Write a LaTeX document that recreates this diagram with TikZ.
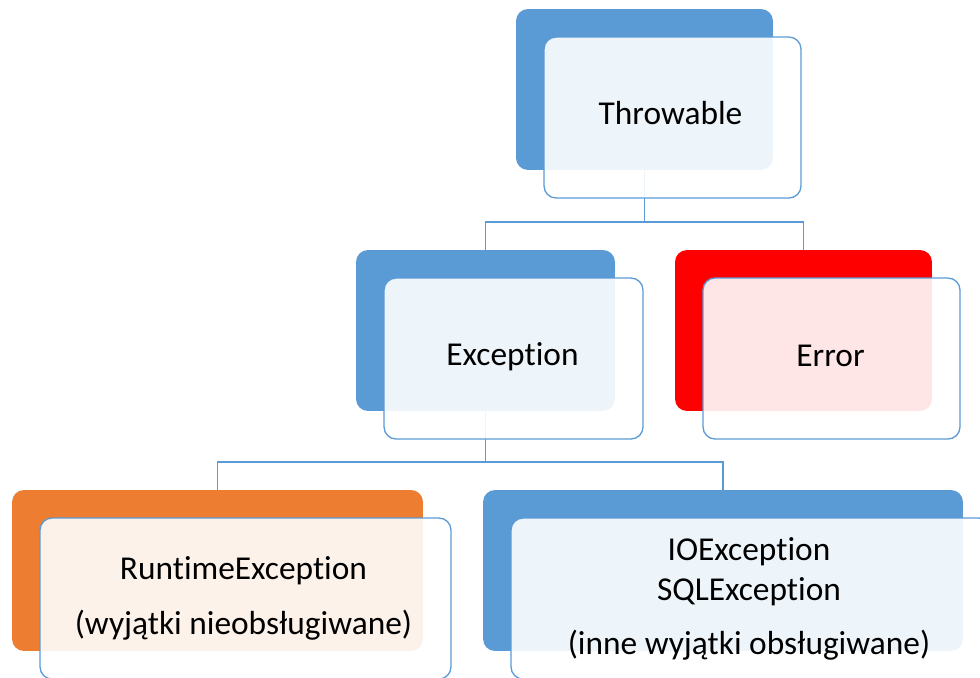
\documentclass[tikz,border=0pt]{standalone}
\usepackage{fontspec}
\setmainfont{Carlito}[Ligatures=NoCommon]
\usepackage{tikz}

\definecolor{blueback}{HTML}{5B9BD5}
\definecolor{redback}{HTML}{FF0000}
\definecolor{orangeback}{HTML}{ED7D31}
\definecolor{lineblue}{HTML}{5B9BD5}

\tikzset{
  back/.style={draw=none,rounded corners=0.24cm,minimum height=3.22cm,inner sep=0pt},
  front/.style={draw=lineblue,line width=0.75pt,fill=white,fill opacity=0.9,rounded corners=0.24cm,minimum height=3.22cm,inner sep=0pt},
  conn/.style={draw=lineblue,line width=0.85pt},
  lbl/.style={align=center,font=\fontsize{19pt}{23pt}\selectfont,inner sep=0pt}
}

\begin{document}
\begin{tikzpicture}[x=0.02cm,y=-0.02cm]
\useasboundingbox (0,0) rectangle (980,677);
\clip (0,0) rectangle (980,677);
\node[back,fill=blueback,minimum width=5.14cm] (throwable) at (644.5,89.5) {};
\node[back,fill=blueback,minimum width=5.18cm] (exception) at (485.5,330.5) {};
\node[back,fill=redback,minimum width=5.14cm] (error) at (803.5,330.5) {};
\node[back,fill=orangeback,minimum width=8.22cm] (runtime) at (217.5,570.5) {};
\node[back,fill=blueback,minimum width=9.6cm] (checked) at (723,570.5) {};

\coordinate (split1) at (644.5,222);
\coordinate (split2) at (485.5,462);
\draw[conn] (throwable.south) -- (split1) -| (exception.north);
\draw[conn] (split1) -| (error.north);
\draw[conn] (exception.south) -- (split2) -| (runtime.north);
\draw[conn] (split2) -| (checked.north);

\node[front,minimum width=5.14cm] (throwablef) at ([shift={(28,28)}]throwable) {};
\node[front,minimum width=5.18cm] (exceptionf) at ([shift={(28,28)}]exception) {};
\node[front,minimum width=5.14cm] (errorf) at ([shift={(28,28)}]error) {};
\node[front,minimum width=8.22cm] (runtimef) at ([shift={(28,28)}]runtime) {};
\node[front,minimum width=9.6cm] (checkedf) at ([shift={(28,28)}]checked) {};

\node[lbl] (throwablet) at ([shift={(-2,-4)}]throwablef) {Throwable};
\node[lbl] (exceptiont) at ([shift={(-1,-2)}]exceptionf) {Exception};
\node[lbl] (errort) at ([shift={(-1,-3)}]errorf) {Error};
\node[lbl] (runtimet) at ([shift={(-2,0)}]runtimef) {RuntimeException\\[8.5pt](wyjątki nieobsługiwane)};
\node[lbl] (checkedt) at ([shift={(-2,0)}]checkedf) {IOException\\SQLException\\[7.5pt](inne wyjątki obsługiwane)};
\end{tikzpicture}
\end{document}
